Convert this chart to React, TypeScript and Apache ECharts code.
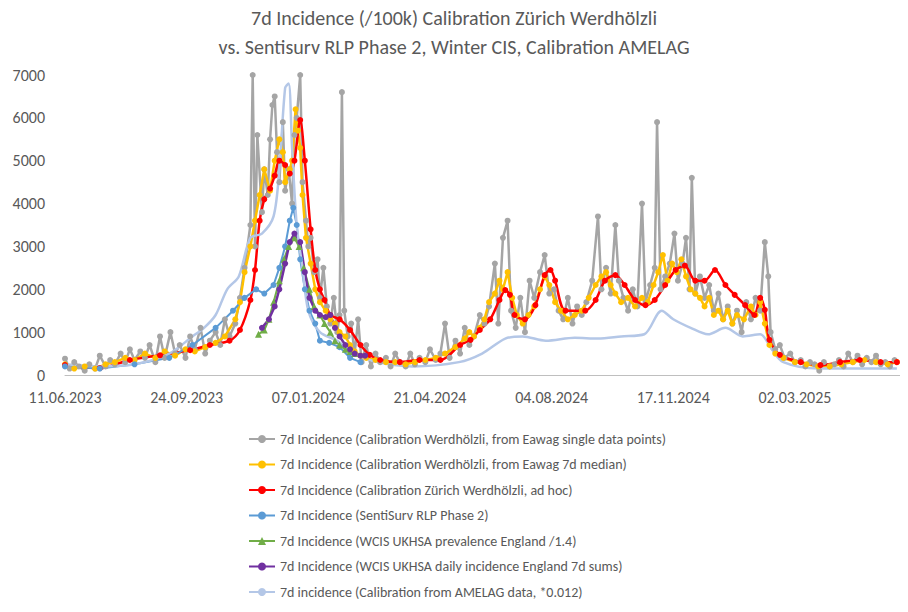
import React, { useEffect, useRef } from "react";
import * as echarts from "echarts";

// x = days since 11.06.2023
const grayData = [[0,380],[4,150],[8,300],[12,200],[17,100],[21,250],[26,150],[30,450],[35,200],[39,350],[43,250],[48,500],[52,300],[56,600],[60,350],[65,550],[69,400],[73,700],[78,300],[82,900],[86,400],[91,1000],[95,500],[99,700],[104,400],[108,900],[112,600],[117,1100],[121,500],[125,800],[130,1000],[134,700],[138,1300],[142,900],[147,1200],[151,1800],[155,2500],[160,3500],[162,7000],[164,3000],[166,5600],[170,3800],[172,4800],[175,4200],[177,5500],[179,6300],[181,6500],[183,5200],[185,4500],[188,5900],[190,4300],[193,4800],[196,4000],[198,5600],[200,6000],[203,7000],[205,4500],[208,3600],[210,3000],[212,3200],[215,2400],[218,2700],[220,1800],[223,2500],[226,1600],[229,1200],[232,1800],[235,1000],[237,1400],[239,6600],[241,1500],[244,900],[247,1200],[250,500],[253,1300],[256,300],[260,700],[264,200],[268,500],[272,300],[277,400],[281,200],[285,500],[289,300],[294,200],[298,500],[302,250],[306,400],[311,300],[315,600],[320,350],[324,500],[328,1200],[332,400],[337,800],[341,500],[345,1100],[349,700],[353,900],[358,1400],[362,1200],[366,1600],[371,2600],[374,1200],[378,3200],[382,3600],[385,1500],[389,1100],[393,1800],[397,1000],[401,2200],[405,1800],[410,2400],[414,2800],[418,1900],[422,2000],[426,1500],[430,1300],[434,1800],[438,1200],[442,1600],[446,1400],[450,1700],[455,2200],[460,3700],[463,2000],[467,2500],[471,1900],[475,3500],[478,2200],[482,1800],[486,1500],[490,2000],[494,1600],[498,4000],[501,1700],[505,2100],[509,2500],[511,5900],[514,2000],[518,2300],[522,2600],[526,3300],[529,2200],[533,2600],[536,3200],[539,2000],[541,4600],[544,1900],[548,2300],[552,1800],[556,2100],[560,1500],[564,1900],[568,1300],[572,1600],[576,1200],[580,1500],[584,1000],[588,1700],[592,1300],[596,1800],[600,1500],[604,3100],[607,2300],[609,1000],[613,600],[617,700],[621,400],[626,500],[630,300],[635,350],[639,200],[643,300],[647,250],[651,100],[655,300],[660,200],[664,250],[668,350],[672,200],[676,500],[680,300],[684,450],[688,250],[692,400],[696,300],[700,450],[704,250],[708,300],[712,200],[716,350]];

const yellowData = [[0,250],[8,150],[17,200],[26,150],[35,250],[43,300],[52,400],[60,350],[69,500],[78,400],[86,550],[95,450],[104,600],[112,550],[121,650],[130,750],[138,900],[147,1300],[151,1700],[155,2400],[160,3000],[164,3600],[168,4200],[172,4800],[177,4300],[181,5000],[185,5500],[188,5200],[190,4500],[194,4800],[196,5000],[199,6200],[201,5700],[203,5300],[205,4200],[208,3200],[212,2600],[216,2000],[220,1700],[225,1500],[229,1300],[233,1200],[237,1000],[242,900],[246,700],[250,550],[255,450],[260,400],[268,350],[277,300],[285,300],[294,250],[302,300],[311,350],[320,400],[328,500],[337,650],[345,850],[349,1000],[353,900],[358,1100],[362,1300],[366,1700],[371,1900],[375,2200],[378,2000],[382,2400],[386,1800],[390,1400],[395,1200],[400,1400],[405,1600],[410,2000],[414,2300],[418,2100],[423,1700],[428,1500],[434,1300],[440,1400],[446,1500],[452,1800],[458,2100],[463,2300],[467,2400],[471,2100],[475,1900],[480,1700],[486,1800],[492,1600],[498,1800],[503,1700],[508,2100],[512,2400],[516,2800],[520,2200],[524,2600],[528,2400],[532,2700],[536,2300],[540,2000],[544,1900],[548,1800],[552,1600],[556,1800],[560,1400],[564,1500],[568,1300],[572,1500],[576,1200],[580,1400],[586,1300],[592,1600],[596,1400],[600,1700],[604,1200],[608,700],[613,500],[620,400],[630,300],[640,250],[650,200],[660,200],[670,250],[680,300],[690,350],[700,300],[710,250],[718,300]];

const redData = [[0,230],[30,160],[56,350],[82,460],[108,580],[125,700],[142,800],[151,1050],[160,1750],[164,2450],[168,3600],[172,4100],[177,4350],[181,4650],[185,5000],[190,4900],[194,4700],[198,5000],[203,5950],[207,5000],[212,3400],[216,2450],[220,2000],[224,1750],[229,1400],[237,1300],[246,1050],[255,700],[263,470],[272,350],[289,300],[306,350],[324,350],[341,700],[350,820],[358,1050],[367,1300],[375,1750],[380,1980],[384,1870],[388,1400],[397,1300],[406,1630],[414,2330],[419,2450],[423,2200],[432,1500],[449,1500],[458,1750],[466,2200],[475,2330],[483,2100],[492,1750],[501,1630],[509,1750],[518,2100],[527,2450],[535,2550],[544,2200],[552,2200],[561,2450],[570,2100],[578,1870],[587,1630],[595,1400],[600,1800],[604,1520],[608,820],[617,470],[635,300],[652,230],[669,300],[686,350],[704,300],[718,300]];

const blueData = [[0,200],[30,150],[60,250],[90,400],[110,700],[130,1100],[145,1500],[155,1800],[165,2000],[172,1900],[180,2100],[185,2500],[190,3000],[194,3600],[197,3900],[200,3500],[203,2700],[207,2000],[211,1500],[216,1200],[220,800],[228,750],[237,650],[246,400],[255,300]];

const greenData = [[167,950],[172,1050],[176,1300],[180,1700],[185,2200],[189,2700],[193,3000],[198,3200],[202,3000],[206,2500],[211,2000],[215,1600],[220,1400],[224,1200],[229,1000],[233,800],[237,700],[242,600],[246,550],[250,500]];

const purpleData = [[170,1100],[176,1300],[181,1600],[185,2000],[190,2600],[194,3100],[198,3300],[203,3100],[207,2400],[211,1800],[216,1500],[220,1400],[225,1350],[229,1400],[233,1100],[237,900],[242,700],[246,600],[250,500],[255,450],[259,450]];

const amelagData = [[0,250],[30,200],[60,250],[90,500],[110,900],[120,1100],[130,1400],[140,2000],[150,2300],[160,3200],[170,3300],[180,3700],[185,4800],[190,6700],[193,6800],[196,5300],[200,3500],[205,2500],[210,1500],[220,1000],[235,800],[250,500],[270,300],[300,200],[340,300],[360,500],[380,850],[395,900],[415,800],[440,870],[460,850],[480,900],[500,950],[515,1500],[525,1300],[540,1100],[555,950],[570,1100],[585,900],[600,950],[610,600],[620,300],[650,150],[690,150],[718,150]];

const seriesNames = [
  "7d Incidence (Calibration Werdhölzli, from Eawag single data points)",
  "7d Incidence (Calibration Werdhölzli, from Eawag 7d median)",
  "7d Incidence (Calibration Zürich Werdhölzli, ad hoc)",
  "7d Incidence (SentiSurv RLP Phase 2)",
  "7d Incidence (WCIS UKHSA prevalence England /1.4)",
  "7d Incidence (WCIS UKHSA daily incidence England 7d sums)",
  "7d incidence (Calibration from AMELAG data, *0.012)",
];

const startDate = new Date(2023, 5, 11);
const fmt = (d: number) => {
  const t = new Date(startDate.getTime() + d * 86400000);
  const p = (n: number) => String(n).padStart(2, "0");
  return `${p(t.getDate())}.${p(t.getMonth() + 1)}.${t.getFullYear()}`;
};

const App: React.FC = () => {
  const chartRef = useRef<HTMLDivElement | null>(null);

  useEffect(() => {
    if (!chartRef.current) return;
    const myChart = echarts.init(chartRef.current, null, { renderer: "svg" });
    const font = "Calibri, Carlito, 'Liberation Sans', 'Open Sans', sans-serif";
    const line = (name: string, data: number[][], color: string, opts: any = {}) => ({
      name,
      type: "line",
      data,
      symbol: "circle",
      symbolSize: 6,
      itemStyle: { color },
      lineStyle: { color, width: 2 },
      ...opts,
    });
    myChart.setOption({
      animation: false,
      textStyle: { fontFamily: font },
      title: {
        text: "7d Incidence (/100k) Calibration Zürich Werdhölzli\nvs. Sentisurv RLP Phase 2, Winter CIS, Calibration AMELAG",
        left: "center",
        top: -2,
        textStyle: { fontSize: 20, fontWeight: "normal", color: "#595959", lineHeight: 29, fontFamily: font },
      },
      grid: { left: 65, right: 3, top: 75, bottom: 237 },
      xAxis: {
        type: "value",
        min: 0,
        max: 725,
        interval: 105,
        splitLine: { show: false },
        axisLine: { lineStyle: { color: "#bfbfbf" } },
        axisTick: { show: false },
        axisLabel: { formatter: (v: number) => (v > 700 ? "" : fmt(v)), fontSize: 16, color: "#595959", margin: 14 },
      },
      yAxis: {
        type: "value",
        min: 0,
        max: 7000,
        interval: 1000,
        splitLine: { show: false },
        axisLine: { show: false },
        axisTick: { show: false },
        axisLabel: { formatter: (v: number) => String(v), fontSize: 16, color: "#595959", margin: 20 },
      },
      legend: {
        orient: "vertical",
        left: 243,
        top: 427,
        height: 200,
        itemGap: 11.5,
        itemWidth: 26,
        itemHeight: 10,
        textStyle: { fontSize: 14, color: "#595959", fontFamily: font },
        data: seriesNames,
      },
      series: [
        line(seriesNames[0], grayData, "#a5a5a5", { lineStyle: { color: "#a5a5a5", width: 2.5 } }),
        line(seriesNames[1], yellowData, "#ffc000", { lineStyle: { color: "#ffc000", width: 2.5 } }),
        line(seriesNames[2], redData, "#ff0000", { smooth: 0.3, lineStyle: { color: "#ff0000", width: 2.5 } }),
        line(seriesNames[3], blueData, "#5b9bd5"),
        line(seriesNames[4], greenData, "#70ad47", { symbol: "triangle", symbolSize: 7 }),
        line(seriesNames[5], purpleData, "#7030a0", { lineStyle: { color: "#7030a0", width: 2.5 } }),
        line(seriesNames[6], amelagData, "#b4c7e7", { symbol: "none", smooth: 0.3, lineStyle: { color: "#b4c7e7", width: 2.5 } }),
      ],
    });
    return () => {
      myChart.dispose();
    };
  }, []);

  return <div ref={chartRef} style={{ width: 908, height: 612, margin: -8 }} />;
};

export default App;
